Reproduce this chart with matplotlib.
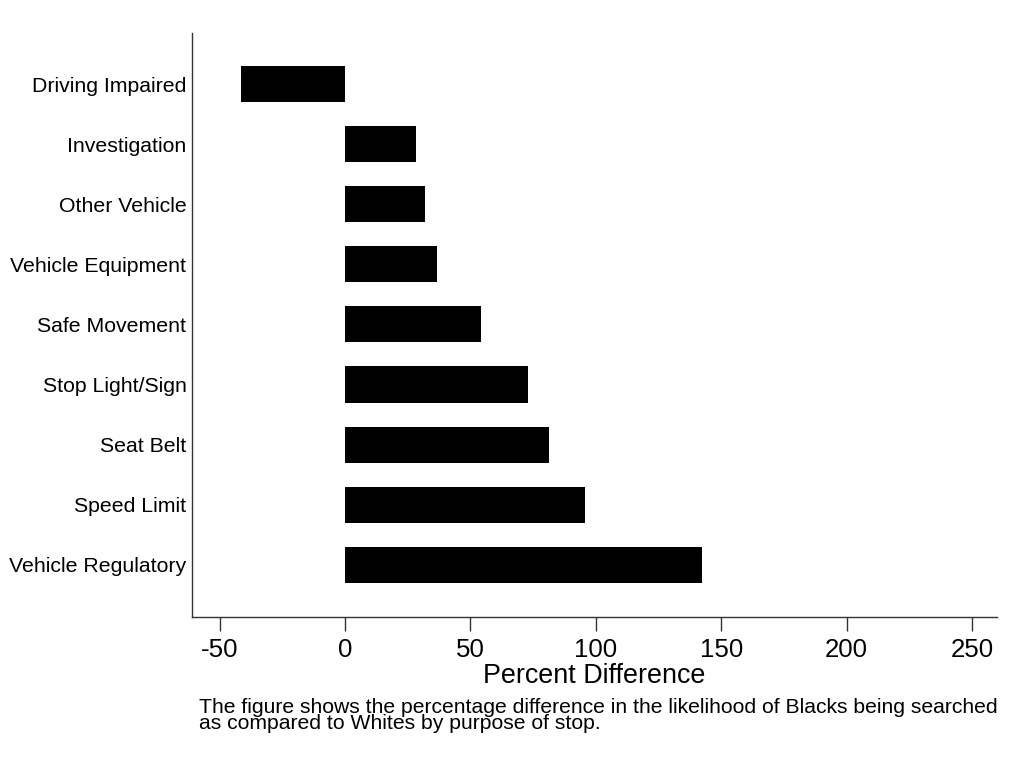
import matplotlib
matplotlib.use("Agg")
import matplotlib.pyplot as plt

purposes = ["Vehicle Regulatory", "Speed Limit", "Seat Belt", "Stop Light/Sign",
            "Safe Movement", "Vehicle Equipment", "Other Vehicle", "Investigation",
            "Driving Impaired"]
pct_diff = [142.3, 95.7, 81.3, 72.9, 54.2, 36.7, 31.9, 28.3, -41.6]
xticks = [-50, 0, 50, 100, 150, 200, 250]

plt.rcParams['font.family'] = ['Liberation Sans', 'DejaVu Sans']

fig = plt.figure(figsize=(10.22, 7.72), dpi=100)
ax = fig.add_axes([192 / 1022, 155 / 772, 805 / 1022, 584 / 772])

ax.barh(range(len(purposes)), pct_diff, height=0.6, color='black')

ax.set_xlim(-61, 260)
ax.set_ylim(-0.87, 8.85)
ax.set_xticks(xticks)
ax.set_xticklabels([str(t) for t in xticks], fontsize=18.6)
ax.set_yticks(range(len(purposes)))
ax.set_yticklabels(purposes, fontsize=15.3)
ax.tick_params(axis='y', length=0, pad=4)
ax.tick_params(axis='x', length=10, width=1, color='#333333', pad=5)
ax.set_xlabel("Percent Difference", fontsize=19.4, labelpad=1)

for s in ['top', 'right']:
    ax.spines[s].set_visible(False)
for s in ['left', 'bottom']:
    ax.spines[s].set_color('#333333')
    ax.spines[s].set_linewidth(1)

fig.text(199 / 1022, 1 - 698 / 772,
         "The figure shows the percentage difference in the likelihood of Blacks being searched\n"
         "as compared to Whites by purpose of stop.",
         fontsize=15.2, va='top', ha='left', linespacing=0.82)

fig.savefig("out.png", dpi=100)
